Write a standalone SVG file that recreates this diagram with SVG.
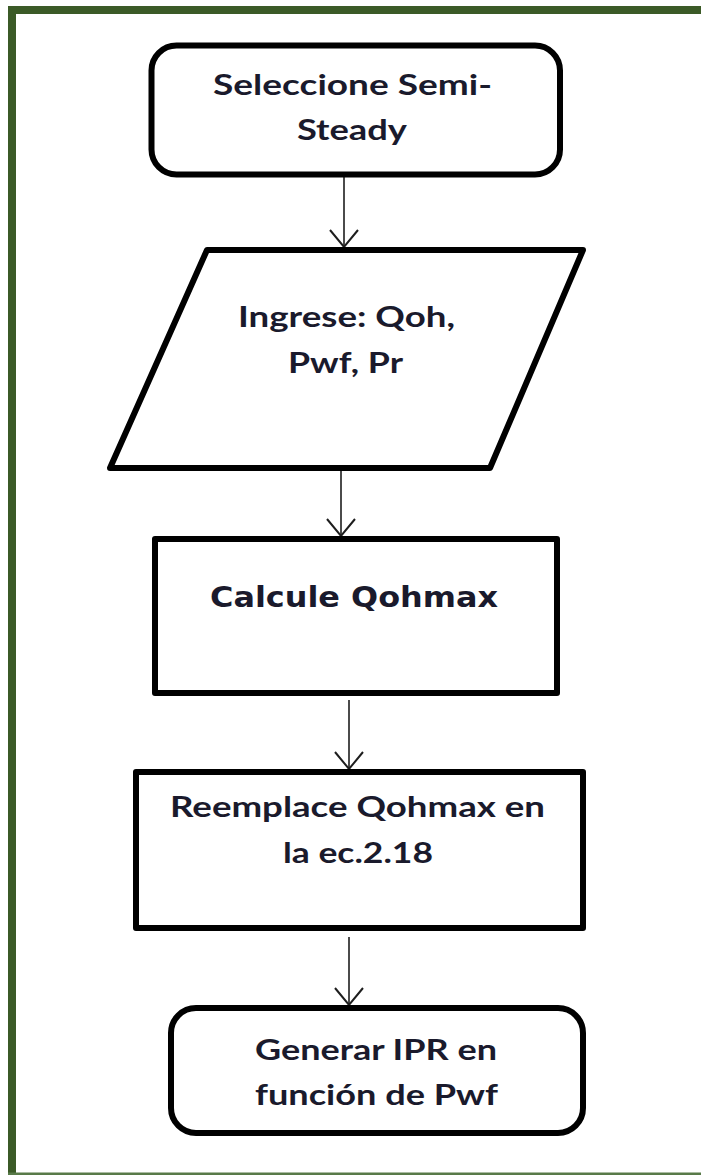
<svg xmlns="http://www.w3.org/2000/svg" width="701" height="1175" viewBox="0 0 701 1175">
<style>
.shape{fill:#ffffff;stroke:#000000;stroke-width:6;stroke-linejoin:round}
.lbl{font-family:Lato,"Open Sans","Liberation Sans",sans-serif;font-weight:bold;font-size:28px;fill:#1a1a2c}
.lbl2{font-family:"DejaVu Sans","Liberation Sans",sans-serif;font-weight:bold;font-size:28px;fill:#1a1a2c}
.conn{stroke:#1e1e1e;stroke-width:1.6;fill:none}
.frame{fill:#3b5a27}
</style>
<defs>
<marker id="ah" markerUnits="userSpaceOnUse" orient="auto" markerWidth="40" markerHeight="40" refX="0" refY="0" viewBox="-20 -20 40 40" overflow="visible">
<path d="M-17,-14 L0,0 L-17,14" fill="none" stroke="#1e1e1e" stroke-width="2"/>
</marker>
</defs>
<rect x="0" y="0" width="701" height="1175" fill="#ffffff"/>
<g id="frame">
<rect class="frame" x="8" y="6" width="693" height="8"/>
<rect class="frame" x="8" y="6" width="8" height="1169"/>
<rect x="8" y="1172.5" width="693" height="2.5" fill="#587a48"/>
</g>
<g id="connectors">
<line class="conn" x1="344" y1="177" x2="344" y2="247" marker-end="url(#ah)"/>
<line class="conn" x1="341" y1="471" x2="341" y2="536" marker-end="url(#ah)"/>
<line class="conn" x1="349" y1="700" x2="349" y2="769" marker-end="url(#ah)"/>
<line class="conn" x1="349" y1="937" x2="349" y2="1005" marker-end="url(#ah)"/>
</g>
<g id="node-seleccione">
<rect class="shape" x="151.5" y="45.5" width="408.5" height="129" rx="25" ry="25"/>
<text class="lbl" x="213" y="95" textLength="279" lengthAdjust="spacingAndGlyphs">Seleccione Semi-</text>
<text class="lbl" x="297" y="140" textLength="110" lengthAdjust="spacingAndGlyphs">Steady</text>
</g>
<g id="node-ingrese">
<polygon class="shape" points="207,250 583,250 490,468 110,468"/>
<text class="lbl" x="238" y="327" textLength="217" lengthAdjust="spacingAndGlyphs">Ingrese: Qoh,</text>
<text class="lbl" x="288" y="373" textLength="115" lengthAdjust="spacingAndGlyphs">Pwf, Pr</text>
</g>
<g id="node-calcule">
<rect class="shape" x="155" y="539" width="402" height="154"/>
<text class="lbl2" x="210" y="607" textLength="288" lengthAdjust="spacingAndGlyphs">Calcule Qohmax</text>
</g>
<g id="node-reemplace">
<rect class="shape" x="136" y="772" width="447" height="156"/>
<text class="lbl" x="170" y="817" textLength="375" lengthAdjust="spacingAndGlyphs">Reemplace Qohmax en</text>
<text class="lbl" x="283" y="863" textLength="150" lengthAdjust="spacingAndGlyphs">la ec.2.18</text>
</g>
<g id="node-generar">
<rect class="shape" x="171" y="1008" width="412" height="125" rx="25" ry="25"/>
<text class="lbl" x="255" y="1060" textLength="242" lengthAdjust="spacingAndGlyphs">Generar IPR en</text>
<text class="lbl" x="255" y="1105" textLength="243" lengthAdjust="spacingAndGlyphs">función de Pwf</text>
</g>
</svg>
